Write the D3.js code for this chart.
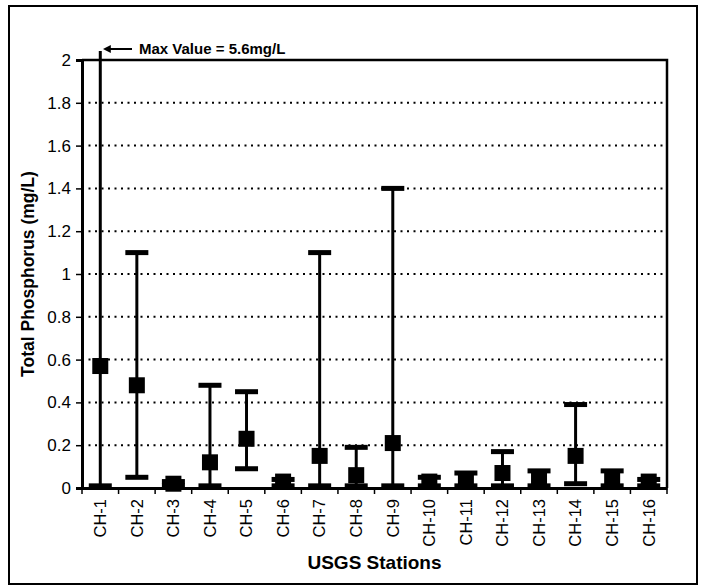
<!DOCTYPE html>
<html>
<head>
<meta charset="utf-8">
<script src="https://cdn.jsdelivr.net/npm/d3@7"></script>
<style>
  body { margin: 0; background: #fff; }
  text { font-family: Arial, "Liberation Sans", sans-serif; fill: #000; }
</style>
</head>
<body>
<div class="svg-container"></div>
<script>
// Data
var stations = ["CH-1", "CH-2", "CH-3", "CH-4", "CH-5", "CH-6", "CH-7", "CH-8",
                "CH-9", "CH-10", "CH-11", "CH-12", "CH-13", "CH-14", "CH-15", "CH-16"];
var meanValues = [0.57, 0.48, 0.02, 0.12, 0.23, 0.03, 0.15, 0.06, 0.21, 0.03, 0.04, 0.07, 0.04, 0.15, 0.04, 0.03];
var minValues  = [0.01, 0.05, 0.01, 0.01, 0.09, 0.01, 0.01, 0.01, 0.01, 0.01, 0.01, 0.01, 0.01, 0.02, 0.01, 0.01];
var maxValues  = [5.6, 1.1, 0.03, 0.48, 0.45, 0.04, 1.1, 0.19, 1.4, 0.05, 0.07, 0.17, 0.08, 0.39, 0.08, 0.04];
var yTicks = [0, 0.2, 0.4, 0.6, 0.8, 1, 1.2, 1.4, 1.6, 1.8, 2];

var W = 706, H = 586;
var margin = {top: 60, right: 39, bottom: 98, left: 82},
    width = W - margin.left - margin.right,
    height = H - margin.top - margin.bottom;

var data = [];
for (let i = 0; i < stations.length; i++) {
  data.push({ station: stations[i], mean: meanValues[i], min: minValues[i], max: maxValues[i] });
}

var svg = d3.select(".svg-container").append("svg")
  .attr("width", W)
  .attr("height", H);

// outer frame
svg.append("rect")
  .attr("x", 9).attr("y", 6)
  .attr("width", 688).attr("height", 578)
  .style("fill", "none")
  .style("stroke", "#000")
  .style("stroke-width", 2);

var g = svg.append("g")
  .attr("transform", "translate(" + margin.left + "," + margin.top + ")");

// Scales
const xScale = d3.scaleBand().domain(stations).range([0, width]);
const yScale = d3.scaleLinear().domain([0, 2]).range([height, 0]);

// Gridlines
g.append("g")
  .selectAll("line")
  .data(yTicks.filter(function(d) { return d > 0 && d < 2; }))
  .enter()
  .append("line")
    .attr("x1", 0).attr("x2", width)
    .attr("y1", function(d) { return yScale(d); })
    .attr("y2", function(d) { return yScale(d); })
    .style("stroke", "#000")
    .style("stroke-width", 2)
    .style("stroke-dasharray", "2,4.5");

// plot frame (top and right)
g.append("path")
  .attr("d", "M0,0H" + width + "V" + height)
  .style("fill", "none")
  .style("stroke", "#000")
  .style("stroke-width", 2.5);

// Axes
const yaxis = d3.axisLeft(yScale).tickValues(yTicks).tickSize(6).tickFormat(d3.format("~g"));
const xaxis = d3.axisBottom(xScale).tickSize(0);

var yG = g.append("g").call(yaxis);
yG.select(".domain").style("stroke-width", 3);
yG.selectAll(".tick line").style("stroke-width", 1.5);
yG.selectAll(".tick text")
  .attr("x", -11)
  .style("font-size", "17px");

var xG = g.append("g")
  .attr("transform", "translate(0," + height + ")")
  .call(xaxis);
xG.select(".domain").style("stroke-width", 3);
xG.selectAll(".tick text")
  .attr("transform", "rotate(-90)")
  .attr("x", -11)
  .attr("y", 0)
  .attr("dy", "0.35em")
  .style("text-anchor", "end")
  .style("font-size", "16.5px");

// category boundary ticks
g.append("g")
  .selectAll("line")
  .data(stations.concat(["end"]))
  .enter()
  .append("line")
    .attr("x1", function(d, i) { return i * xScale.step(); })
    .attr("x2", function(d, i) { return i * xScale.step(); })
    .attr("y1", height)
    .attr("y2", height + 6)
    .style("stroke", "#000")
    .style("stroke-width", 1.5);

// clip so the CH-1 line stops just above the plot top
svg.append("clipPath").attr("id", "clip")
  .append("rect")
  .attr("x", -10).attr("y", -9)
  .attr("width", width + 20).attr("height", height + 20);

var marks = g.append("g").attr("clip-path", "url(#clip)");
var cx = function(d) { return xScale(d.station) + xScale.bandwidth() / 2; };
var capW = 23, capH = 5, box = 16;

// error lines
marks.selectAll(".err")
  .data(data)
  .enter()
  .append("line")
    .attr("class", "err")
    .attr("x1", cx).attr("x2", cx)
    .attr("y1", function(d) { return yScale(d.min); })
    .attr("y2", function(d) { return yScale(d.max); })
    .style("stroke", "#000")
    .style("stroke-width", 3);

// caps
["min", "max"].forEach(function(k) {
  marks.selectAll(".cap-" + k)
    .data(data)
    .enter()
    .append("rect")
      .attr("class", "cap-" + k)
      .attr("x", function(d) { return cx(d) - capW / 2; })
      .attr("y", function(d) { return yScale(d[k]) - capH / 2; })
      .attr("width", capW)
      .attr("height", capH)
      .attr("fill", "#000");
});

// mean markers
marks.selectAll(".mean")
  .data(data)
  .enter()
  .append("rect")
    .attr("class", "mean")
    .attr("x", function(d) { return cx(d) - box / 2; })
    .attr("y", function(d) { return yScale(d.mean) - box / 2; })
    .attr("width", box)
    .attr("height", box)
    .attr("fill", "#000");

// annotation
svg.append("defs").append("marker")
  .attr("id", "arrow")
  .attr("viewBox", "0 0 10 10")
  .attr("refX", 1).attr("refY", 5)
  .attr("markerWidth", 4).attr("markerHeight", 4)
  .attr("orient", "auto-start-reverse")
  .append("path")
  .attr("d", "M0,0L10,5L0,10z")
  .attr("fill", "#000");

svg.append("line")
  .attr("x1", 132).attr("y1", 49)
  .attr("x2", 110).attr("y2", 49)
  .style("stroke", "#000")
  .style("stroke-width", 2)
  .attr("marker-end", "url(#arrow)");

svg.append("text")
  .attr("x", 139).attr("y", 54)
  .style("font-size", "15px")
  .style("font-weight", "bold")
  .text("Max Value = 5.6mg/L");

// axis titles
svg.append("text")
  .attr("transform", "translate(34," + (margin.top + height / 2) + ") rotate(-90)")
  .style("text-anchor", "middle")
  .style("font-size", "17.5px")
  .style("font-weight", "bold")
  .text("Total Phosphorus (mg/L)");

svg.append("text")
  .attr("x", margin.left + width / 2)
  .attr("y", 569)
  .style("text-anchor", "middle")
  .style("font-size", "19px")
  .style("font-weight", "bold")
  .text("USGS Stations");
</script>
</body>
</html>
